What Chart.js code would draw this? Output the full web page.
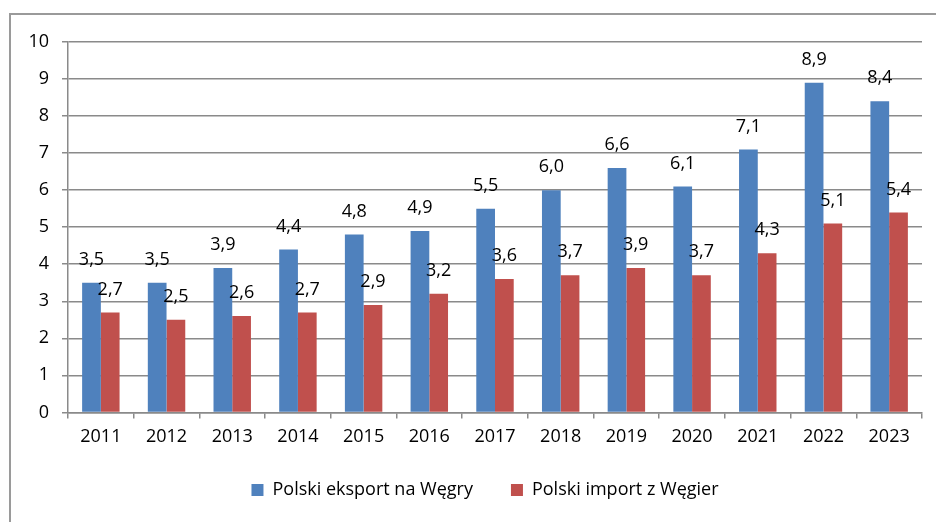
<!DOCTYPE html>
<html>
<head>
  <meta charset="UTF-8">
  <title>Handel Polska - Węgry</title>
  <script src="https://cdn.jsdelivr.net/npm/chart.js"></script>
  <style>
    body {
      margin: 0;
      background: #fff;
      overflow: hidden;
    }
    #ramka {
      position: absolute;
      left: 9px;
      top: 13px;
      width: 1000px;
      height: 600px;
      border-left: 2px solid #9a9a9a;
      border-top: 2px solid #9a9a9a;
    }
    #wrap {
      position: absolute;
      left: 0;
      top: 0;
      width: 936px;
      height: 522px;
    }
  </style>
</head>
<body>
  <div id="ramka"></div>
  <div id="wrap"><canvas id="grafico" width="936" height="522"></canvas></div>

  <script>
    const lata = ['2011', '2012', '2013', '2014', '2015', '2016', '2017', '2018', '2019', '2020', '2021', '2022', '2023'];
    const eksport = [3.5, 3.5, 3.9, 4.4, 4.8, 4.9, 5.5, 6.0, 6.6, 6.1, 7.1, 8.9, 8.4];
    const importWeg = [2.7, 2.5, 2.6, 2.7, 2.9, 3.2, 3.6, 3.7, 3.9, 3.7, 4.3, 5.1, 5.4];
    const yTicks = [0, 1, 2, 3, 4, 5, 6, 7, 8, 9, 10];

    const czcionka = 'Open Sans';
    Chart.defaults.font.family = czcionka;
    Chart.defaults.color = '#000';

    // etykiety wartości nad słupkami (przecinek dziesiętny)
    const etykiety = {
      id: 'etykiety',
      afterLayout(chart) {
        // legenda lekko w lewo, jak w oryginale
        chart.legend.left -= 10;
        chart.legend.right -= 10;
      },
      afterDatasetsDraw(chart) {
        const ctx = chart.ctx;
        ctx.save();
        ctx.font = '18px "' + czcionka + '"';
        ctx.fillStyle = '#000';
        ctx.textAlign = 'center';
        ctx.textBaseline = 'middle';
        chart.data.datasets.forEach((ds, i) => {
          chart.getDatasetMeta(i).data.forEach((el, j) => {
            const txt = ds.data[j].toFixed(1).replace('.', ',');
            ctx.fillText(txt, el.x, el.y - 23);
          });
        });
        ctx.restore();
      }
    };

    const ctx = document.getElementById('grafico').getContext('2d');
    const chart = new Chart(ctx, {
      type: 'bar',
      data: {
        labels: lata,
        datasets: [
          {
            label: 'Polski eksport na Węgry',
            data: eksport,
            backgroundColor: '#4F81BD',
            categoryPercentage: 0.57,
            barPercentage: 1.0
          },
          {
            label: 'Polski import z Węgier',
            data: importWeg,
            backgroundColor: '#C0504D',
            categoryPercentage: 0.57,
            barPercentage: 1.0
          }
        ]
      },
      options: {
        animation: false,
        responsive: false,
        layout: {
          padding: { left: 10, right: 14, top: 42, bottom: 13 }
        },
        plugins: {
          tooltip: { enabled: false },
          legend: {
            position: 'bottom',
            fullSize: false,
            labels: {
              boxWidth: 12,
              boxHeight: 12,
              padding: 38,
              font: { size: 18 }
            }
          }
        },
        scales: {
          x: {
            afterFit(scale) { scale.height -= 13; },
            grid: {
              display: true,
              drawOnChartArea: false,
              drawTicks: true,
              tickLength: 6,
              color: '#8a8a8a',
              lineWidth: 1.5
            },
            border: { display: true, color: '#8a8a8a', width: 1.5 },
            ticks: { font: { size: 18 }, padding: 8 }
          },
          y: {
            min: 0,
            max: 10,
            afterFit(scale) { scale.width = 58; },
            afterBuildTicks(scale) { scale.ticks = yTicks.map(v => ({ value: v })); },
            grid: {
              color: '#8a8a8a',
              lineWidth: 1.5,
              tickLength: 6
            },
            border: { display: true, color: '#8a8a8a', width: 1.5 },
            ticks: { font: { size: 18 }, padding: 13 }
          }
        }
      },
      plugins: [etykiety]
    });
  </script>
</body>
</html>
